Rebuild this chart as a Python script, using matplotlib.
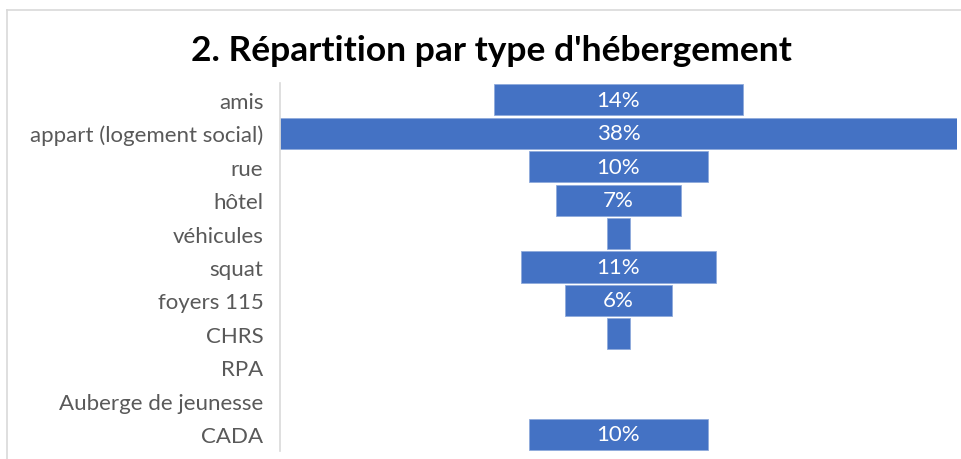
import matplotlib.pyplot as plt
from matplotlib.lines import Line2D

categories = ["amis", "appart (logement social)", "rue", "hôtel", "véhicules",
              "squat", "foyers 115", "CHRS", "RPA", "Auberge de jeunesse", "CADA"]
values = [14, 38, 10, 7, 1.3, 11, 6, 1.3, 0, 0, 10]
labels = ["14%", "38%", "10%", "7%", "", "11%", "6%", "", "", "", "10%"]

blue = "#4472C4"
grey_text = "#595959"

plt.rcParams["font.family"] = ["Lato", "DejaVu Sans"]

fig = plt.figure(figsize=(9.61, 4.60), dpi=100)
ax = fig.add_axes([280 / 961, 8 / 460, 677 / 961, 368 / 460])

# funnel: each bar centred on zero, empty rows get no outline
ypos = list(range(len(categories)))
for y, v in zip(ypos, values):
    if v > 0:
        ax.barh(y, v, left=-v / 2, height=0.93, color=blue,
                edgecolor="#8FAADC", linewidth=0.6)

for y, lab in zip(ypos, labels):
    if lab:
        ax.text(0, y, lab, ha="center", va="center", color="white", fontsize=16)

ax.set_xlim(-19, 19)
ax.set_ylim(len(categories) - 0.5, -0.5)
ax.set_yticks(ypos)
ax.set_yticklabels(categories, fontsize=16, color=grey_text)
ax.tick_params(axis="y", length=0, pad=12)
ax.set_xticks([])
for side in ["top", "right", "bottom"]:
    ax.spines[side].set_visible(False)
ax.spines["left"].set_color("#D9D9D9")
ax.spines["left"].set_linewidth(1.2)

fig.text(491 / 961, 1 - 51 / 460, "2. Répartition par type d'hébergement",
         ha="center", va="center", fontsize=25.5, fontweight="bold", color="black")

# outer chart frame
fig.add_artist(Line2D([7 / 961, 1], [1 - 11 / 460, 1 - 11 / 460],
                      transform=fig.transFigure, color="#D9D9D9", lw=1.2))
fig.add_artist(Line2D([7 / 961, 7 / 961], [0, 1 - 11 / 460],
                      transform=fig.transFigure, color="#D9D9D9", lw=1.2))

fig.savefig("out.png", dpi=100)
